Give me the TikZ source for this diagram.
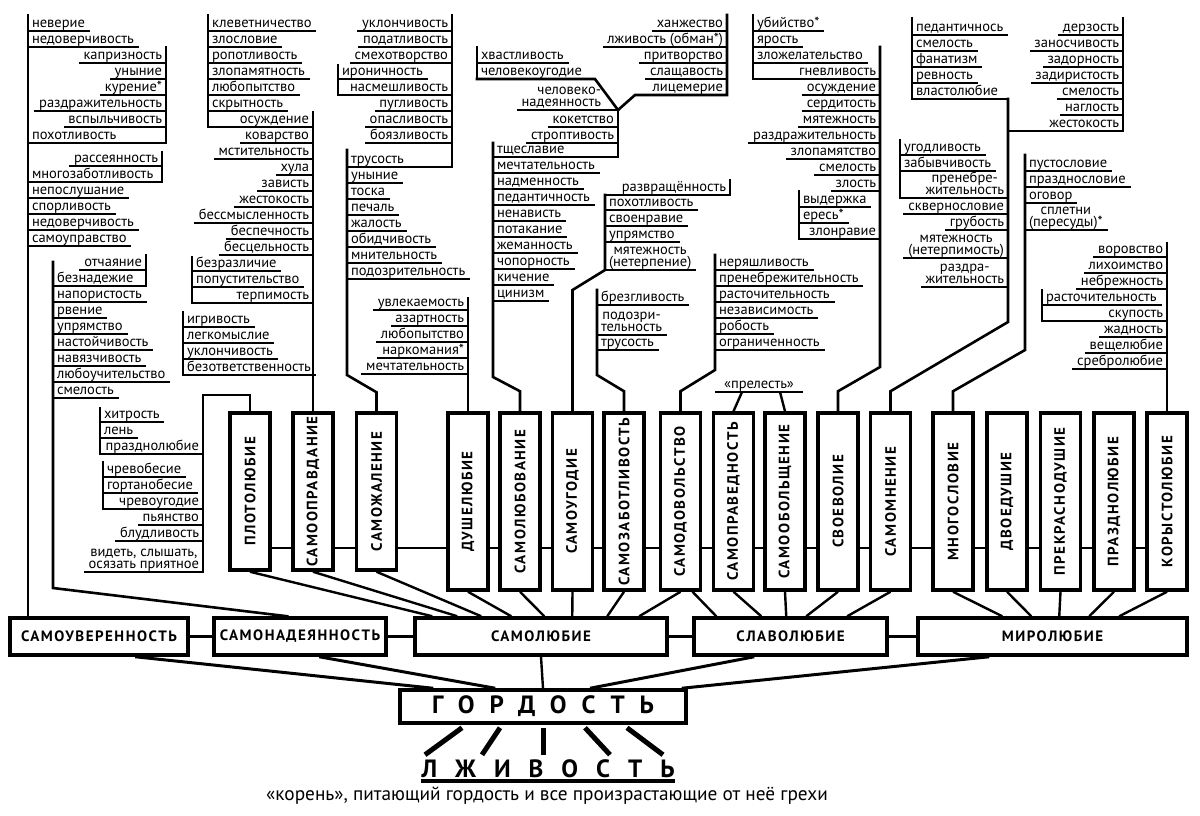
\documentclass[tikz,border=0pt]{standalone}
\usepackage{fontspec}
\setmainfont{PT Sans}
\newfontfamily\labelfont[LetterSpace=10]{PT Sans}
\newfontfamily\titlefont[LetterSpace=60]{PT Sans}
\newfontfamily\rootfont[LetterSpace=72]{PT Sans}
\usetikzlibrary{calc, positioning}

\newcommand{\itemfont}{\fontsize{14.5}{12}\selectfont}
\newcommand{\boxfont}{\labelfont\bfseries\fontsize{15}{15}\selectfont}

\tikzset{
  itm/.style={font=\itemfont, inner sep=0pt, outer sep=0pt},
  ul/.style={line width=1.8pt, line cap=rect},
  bar/.style={line width=2.6pt, line cap=rect},
  link/.style={line width=2.4pt},
  spoke/.style={line width=5pt},
  vbox/.style={draw, line width=3.5pt, fill=white, inner sep=0pt, minimum width=40pt, font=\boxfont},
  hbox/.style={draw, line width=3.5pt, fill=white, inner sep=0pt, minimum height=37pt, font=\boxfont},
}

% word lists on a bar: bar x, first underline y, name prefix, words
\newcommand{\Llist}[4]{%
  \foreach \w [count=\k from 0] in {#4}{%
    \pgfmathsetmacro\yy{#2+16*\k}
    \node[itm, anchor=base west] (#3\k) at ({#1+4},{\yy-3.5}) {\w};
    \draw[ul, shorten >=-4pt] (#1,\yy) -- (#3\k.east |- 0,\yy);
  }}
\newcommand{\Rlist}[4]{%
  \foreach \w [count=\k from 0] in {#4}{%
    \pgfmathsetmacro\yy{#2+16*\k}
    \node[itm, anchor=base east] (#3\k) at ({#1-4},{\yy-3.5}) {\w};
    \draw[ul, shorten <=-4pt] (#3\k.west |- 0,\yy) -- (#1,\yy);
  }}
% two-line words
\newcommand{\LLitem}[4]{%
  \node[itm, anchor=base west, align=center] (#3) at ({#1+4},{#2-3.5}) {#4};
  \draw[ul, shorten >=-4pt] (#1,#2) -- (#3.east |- 0,#2);}
\newcommand{\RRitem}[4]{%
  \node[itm, anchor=base east, align=center] (#3) at ({#1-4},{#2-3.5}) {#4};
  \draw[ul, shorten <=-4pt] (#3.west |- 0,#2) -- (#1,#2);}

\begin{document}
\begin{tikzpicture}[x=1pt, y=-1pt]
    \fill[white] (0,0) rectangle (1200,815);
    \useasboundingbox (0,0) rectangle (1200,815);

    % Vertical boxes
    \foreach \cx/\by/\lbl [count=\k] in {
      250/570/ПЛОТОЛЮБИЕ, 313/570/САМООПРАВДАНИЕ, 376.5/570/САМОЖАЛЕНИЕ,
      468/590/ДУШЕЛЮБИЕ, 520/590/САМОЛЮБОВАНИЕ, 572.5/590/САМОУГОДИЕ,
      624/590/САМОЗАБОТЛИВОСТЬ, 680.5/590/САМОДОВОЛЬСТВО, 733.5/590/САМОПРАВЕДНОСТЬ,
      785/590/САМООБОЛЬЩЕНИЕ, 838/590/СВОЕВОЛИЕ, 890.5/590/САМОМНЕНИЕ,
      953/590/МНОГОСЛОВИЕ, 1007/590/ДВОЕДУШИЕ, 1060.5/590/ПРЕКРАСНОДУШИЕ,
      1114/590/ПРАЗДНОЛЮБИЕ, 1167/590/КОРЫСТОЛЮБИЕ}
      \node[vbox, minimum height={\by-413}] (v\k) at (\cx,{(\by+413)/2}) {\rotatebox{90}{\lbl}};
    \foreach \k [count=\n from 2] in {1,...,16}
      \draw[link] (v\k.east |- 0,548) -- (v\n.west |- 0,548);

    % Row of boxes
    \node[hbox, minimum width=178pt] (r1) at (99,636.5) {САМОУВЕРЕННОСТЬ};
    \node[hbox, minimum width=172pt] (r2) at (300,636.5) {САМОНАДЕЯННОСТЬ};
    \node[hbox, minimum width=252pt] (r3) at (541,636.5) {САМОЛЮБИЕ};
    \node[hbox, minimum width=193pt] (r4) at (790.5,636.5) {СЛАВОЛЮБИЕ};
    \node[hbox, minimum width=269pt] (r5) at (1052.5,636.5) {МИРОЛЮБИЕ};
    \foreach \a/\b in {r1/r2, r2/r3, r3/r4, r4/r5}
      \draw[link] (\a.east) -- (\b.west);
    \foreach \k/\tgt/\dx in {1/r3/19, 2/r3/44, 3/r3/68, 4/r3/98, 5/r3/131, 6/r3/159,
      7/r3/194, 8/r3/226, 9/r4/69, 10/r4/94, 11/r4/114, 12/r4/155, 13/r5/86,
      14/r5/115, 15/r5/143, 16/r5/173, 17/r5/203}
      \draw[link] (v\k.south) -- ($(\tgt.north west)+(\dx,0)$);
    \draw[link] ($(v8.south)+(12,0)$) -- ($(r4.north west)+(24,0)$);

    % Root
    \node[draw, line width=3.5pt, inner sep=0pt, minimum width=286pt, minimum height=33pt,
      font=\titlefont\bfseries\fontsize{25}{25}\selectfont] (gord) at (543,706.5) {ГОРДОСТЬ};
    \draw[line width=3pt] ($(r1.south west)+(127,0)$) -- ($(gord.north west)+(35,0)$);
    \draw[line width=3pt] ($(r2.south west)+(107,0)$) -- ($(gord.north west)+(97,0)$);
    \draw[link] (r3.south) -- (gord.north);
    \draw[line width=3pt] ($(r4.south west)+(62,0)$) -- ($(gord.north)+(47,0)$);
    \draw[line width=3pt] ($(r5.south west)+(73,0)$) -- ($(gord.north east)+(-6,0)$);

    \node[inner sep=0pt, anchor=base, font=\rootfont\bfseries\fontsize{25}{25}\selectfont]
      (lzh) at (548,777) {ЛЖИВОСТЬ};
    \draw[line width=4pt] (lzh.base west |- 0,781) -- (lzh.base east |- 0,781);
    \foreach \dx/\ex in {-81/-118, -43/-61, 0/0, 42/67, 84/120}
      \draw[spoke] ($(gord.south)+(\dx,3)$) -- ($(gord.south)+(\ex,30)$);
    \node[inner sep=0pt, anchor=base, font=\fontsize{19.3}{19}\selectfont] (cap) at (547,800)
      {«корень», питающий гордость и все произрастающие от неё грехи};

    % Left trunks
    \coordinate (t1) at (28,15);
    \draw[bar] (t1) -- (t1 |- r1.north);
    \Llist{28}{31}{aa}{неверие, недоверчивость}
    \Rlist{166}{63}{ab}{капризность, уныние, курение*, раздражительность, вспыльчивость}
    \Llist{28}{143}{ac}{похотливость}
    \draw[ul] (28,143) -- (166,143);
    \draw[bar] (166,47) -- (166,143);
    \Rlist{162}{166}{ad}{рассеянность}
    \Llist{28}{182}{ae}{многозаботливость, непослушание, спорливость, недоверчивость, самоуправство}
    \draw[ul] (28,182) -- (162,182);
    \draw[bar] (162,152) -- (162,182);

    \coordinate (t2) at (53,262);
    \draw[bar] (t2) -- (53,588) -- ($(r2.north west)+(75,0)$);
    \Rlist{146}{270}{af}{отчаяние}
    \Llist{53}{286}{ag}{безнадежие, напористость, рвение, упрямство, настойчивость, навязчивость, любоучительство, смелость}
    \draw[ul] (53,286) -- (146,286);
    \draw[bar] (146,255) -- (146,286);

    % Plotolyubie
    \draw[bar] (v1.north) |- (203,395) -- (203,572);
    \Llist{100}{422}{ba}{хитрость, лень}
    \Rlist{203}{454}{bb}{празднолюбие}
    \draw[ul] (100,454) -- (203,454);
    \draw[bar] (100,408) -- (100,454);
    \Llist{103}{477}{bc}{чревобесие, гортанобесие}
    \Rlist{203}{509}{bd}{чревоугодие, пьянство, блудливость}
    \draw[ul] (103,509) -- (203,509);
    \draw[bar] (103,462) -- (103,509);
    \RRitem{203}{572}{be}{видеть, слышать,\\осязать приятное}

    % Samoopravdanie
    \Llist{208}{31}{ca}{клеветничество, злословие, ропотливость, злопамятность, любопытство, скрытность}
    \draw[bar] (208,15) -- (208,127);
    \Rlist{313}{127}{cb}{осуждение, коварство, мстительность, хула, зависть, жестокость, бессмысленность, беспечность, бесцельность}
    \draw[ul] (208,127) -- (313,127);
    \draw[bar] (v2.north) -- (v2.north |- 0,112);
    \Llist{192}{271}{cc}{безразличие, попустительство}
    \Rlist{313}{303}{cd}{терпимость}
    \draw[ul] (192,303) -- (313,303);
    \draw[bar] (192,257) -- (192,303);
    \Llist{183}{327}{ce}{игривость, легкомыслие, уклончивость, безответственность}
    \draw[ul] (183,375) -- (313,375);
    \draw[bar] (183,312) -- (183,375);

    % Samozhalenie
    \Rlist{452}{31}{da}{уклончивость, податливость, смехотворство}
    \Llist{338}{79}{db}{ироничность}
    \Rlist{452}{95}{dc}{насмешливость, пугливость, опасливость, боязливость}
    \draw[ul] (338,95) -- (452,95);
    \draw[bar] (338,65) -- (338,95);
    \draw[bar] (452,15) -- (452,167);
    \Llist{347}{167}{dd}{трусость, уныние, тоска, печаль, жалость, обидчивость, мнительность, подозрительность}
    \draw[ul] (347,167) -- (452,167);
    \draw[bar] (v3.north) -- ++(0,-19) -- (347,375) -- (347,150);

    % Dushelyubie
    \Rlist{468}{310}{ea}{увлекаемость, азартность, любопытство, наркомания*, мечтательность}
    \draw[bar] (v4.north) -- (468,298);

    % Samolyubovanie
    \Llist{477}{63}{fa}{хвастливость, человекоугодие}
    \draw[bar] (477,47) -- (477,79);
    \draw[bar] (477,79) -- (595,79) -- (618,110);
    \Rlist{727}{31}{fb}{ханжество, лживость (обман*), притворство, слащавость, лицемерие}
    \draw[bar] (727,15) -- (727,95) -- (635,95) -- (618,110);
    \node[itm, anchor=base east, align=right] (fc) at (601,106.5) {человеко-\\надеянность};
    \draw[ul, shorten <=-4pt] (fc.west |- 0,110) -- (618,110);
    \Rlist{618}{127}{fd}{кокетство, строптивость}
    \draw[bar] (618,110) -- (618,157);
    \Llist{493}{157}{fe}{тщеславие, мечтательность, надменность, педантичность, ненависть, потакание, жеманность, чопорность, кичение, цинизм}
    \draw[ul] (493,157) -- (618,157);
    \draw[bar] (v5.north) -- ++(0,-20) -- (493,377) -- (493,143);

    % Samougodie
    \Rlist{730}{195}{ga}{развращённость}
    \draw[ul] (605,195) -- (730,195);
    \draw[bar] (730,180) -- (730,195);
    \Llist{605}{210}{gb}{похотливость, своенравие, упрямство}
    \LLitem{605}{270}{gc}{мятежность\\(нетерпение)}
    \draw[bar] (v6.north) -- (v6.north |- 0,290) -- (605,270) -- (605,195);

    % Samozabotlivost
    \Llist{597}{305}{ha}{брезгливость}
    \LLitem{597}{335}{hb}{подозри-\\тельность}
    \Llist{597}{350}{hc}{трусость}
    \draw[bar] (v7.north) -- ++(0,-20) -- (597,375) -- (597,290);

    % Samodovolstvo
    \Llist{715}{270}{ia}{неряшливость, пренебрежительность, расточительность, независимость, робость, ограниченность}
    \draw[bar] (v8.north) -- ++(0,-20) -- (715,370) -- (715,255);

    % prelest
    \node[itm, anchor=base] (pr) at (759,388.5) {«прелесть»};
    \draw[ul] ($(pr.base west)+(-8,3.5)$) -- ($(pr.base east)+(8,3.5)$);
    \draw[link] (v9.north) -- ($(pr.base)+(-17,3.5)$);
    \draw[link] (v10.north) -- ($(pr.base)+(21,3.5)$);

    % Svoevolie
    \Llist{753}{31}{ja}{убийство*, ярость, зложелательство}
    \draw[bar] (753,15) -- (753,79);
    \Rlist{880}{79}{jb}{гневливость, осуждение, сердитость, мятежность, раздражительность, злопамятство, смелость, злость}
    \draw[ul] (753,79) -- (880,79);
    \Llist{799}{207}{jc}{выдержка, ересь*}
    \Rlist{880}{239}{jd}{злонравие}
    \draw[ul] (799,239) -- (880,239);
    \draw[bar] (799,191) -- (799,239);
    \draw[bar] (v11.north) -- ++(0,-20) -- (880,367) -- (880,47);

    % Samomnenie
    \Llist{912}{35}{ka}{педантичнось, смелость, фанатизм, ревность, властолюбие}
    \draw[bar] (912,18) -- (912,99);
    \draw[ul] (912,99) -- (1008,99);
    \Rlist{1123}{35}{kb}{дерзость, заносчивость, задорность, задиристость, смелость, наглость, жестокость}
    \draw[bar] (1123,18) -- (1123,131);
    \draw[ul] (1008,131) -- (1123,131);
    \draw[bar] (v12.north) -- ++(0,-20) -- (1008,322) -- (1008,99);
    \Llist{900}{155}{kc}{угодливость, забывчивость}
    \RRitem{1008}{198}{kd}{пренебре-\\жительность}
    \draw[ul] (900,198) -- (1008,198);
    \draw[bar] (900,140) -- (900,198);
    \Rlist{1008}{214}{ke}{сквернословие, грубость}
    \RRitem{1008}{258}{kf}{мятежность\\(нетерпимость)}
    \RRitem{1008}{287}{kg}{раздра-\\жительность}

    % Mnogoslovie
    \Llist{1025}{171}{la}{пустословие, празднословие, оговор}
    \LLitem{1025}{230}{lb}{сплетни\\(пересуды)*}
    \draw[bar] (v13.north) -- ++(0,-20) -- (1025,350) -- (1025,155);

    % Korystolyubie
    \Rlist{1167}{257}{ma}{воровство, лихоимство, небрежность}
    \Llist{1042}{305}{mb}{расточительность}
    \Rlist{1167}{321}{mc}{скупость, жадность, вещелюбие, сребролюбие}
    \draw[ul] (1042,321) -- (1167,321);
    \draw[bar] (1042,290) -- (1042,321);
    \draw[bar] (v17.north) -- (v17.north |- 0,243);
\end{tikzpicture}
\end{document}
